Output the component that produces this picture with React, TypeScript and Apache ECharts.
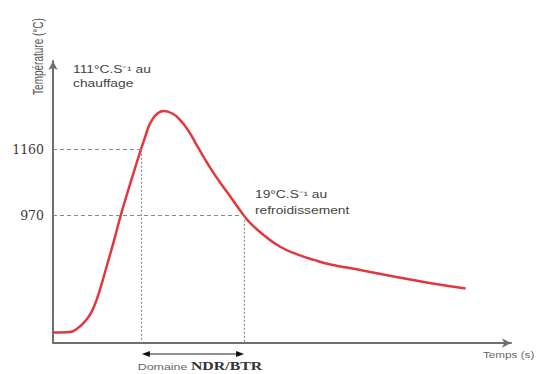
import React, { useEffect, useRef } from "react";
import * as echarts from "echarts";

// time (s, arbitrary units) and temperature (°C)
const timeS = [0, 3.0, 5.2, 7.4, 8.8, 10.2, 11.7, 13.2, 14.6, 16.0, 17.8, 19.0, 20.0, 20.6, 21.5, 22.6, 23.9, 25.8, 27.5, 29.4, 31.2, 34.8, 38.4, 41.3, 42.7, 45.6, 49.2, 52.8, 56.4, 60.0, 67.2, 74.5, 81.7, 89.2];
const tempC = [634, 635, 645, 674, 707, 760, 829, 899, 969, 1032, 1110, 1160, 1200, 1224, 1247, 1264, 1271, 1264, 1245, 1212, 1170, 1091, 1024, 970, 948, 914, 880, 859, 843, 830, 812, 793, 776, 761];

const yTickValues = [970, 1160];
const guideTemps = [1160, 970];
const guideTimes = [19.0, 41.3];
const yMin = 604;
const yMax = 1415;
const xMin = 0;
const xMax = 99;

export default function App() {
  const ref = useRef<HTMLDivElement>(null);
  useEffect(() => {
    if (!ref.current) return;
    const chart = echarts.init(ref.current, null, { renderer: "svg" });
    const data = timeS.map((t, i) => [t, tempC[i]]);
    const guideColor = "#8a8a8a";
    const markData: any[] = [];
    guideTemps.forEach((temp, i) => {
      const t = guideTimes[i];
      markData.push([
        { coord: [xMin, temp], lineStyle: { type: [4, 3], color: guideColor, width: 1.2 } },
        { coord: [t, temp] },
      ]);
      markData.push([
        { coord: [t, temp], lineStyle: { type: [2, 2], color: guideColor, width: 1.2 } },
        { coord: [t, yMin] },
      ]);
    });

    chart.setOption({
      animation: false,
      grid: { left: 53, right: 28, top: 61, bottom: 31, containLabel: false },
      xAxis: {
        type: "value",
        min: xMin,
        max: xMax,
        axisLine: {
          show: true,
          symbol: ["none", "arrow"],
          symbolSize: [7, 9],
          lineStyle: { color: "#6f6f6f", width: 2 },
        },
        axisTick: { show: false },
        axisLabel: { show: false },
        splitLine: { show: false },
      },
      yAxis: {
        type: "value",
        min: yMin,
        max: yMax,
        axisLine: {
          show: true,
          symbol: ["none", "arrow"],
          symbolSize: [7, 9],
          lineStyle: { color: "#6f6f6f", width: 2 },
        },
        axisTick: { show: false },
        axisLabel: {
          show: true,
          customValues: yTickValues,
          formatter: (v: number) => String(v),
          fontFamily: "DejaVu Serif",
          fontSize: 12.5,
          color: "#3a3a3a",
          margin: 9,
        },
        splitLine: { show: false },
      },
      series: [
        {
          type: "line",
          data,
          smooth: 0.5,
          showSymbol: false,
          lineStyle: { color: "#e3373e", width: 2.5 },
          markLine: {
            silent: true,
            symbol: ["none", "none"],
            label: { show: false },
            data: markData,
          },
        },
      ],
    });

    const p1 = chart.convertToPixel({ gridIndex: 0 }, [guideTimes[0], yMin]) as number[];
    const p2 = chart.convertToPixel({ gridIndex: 0 }, [guideTimes[1], yMin]) as number[];
    const xEnd = chart.convertToPixel({ gridIndex: 0 }, [xMax, yMin]) as number[];
    const ay = p1[1] + 11;
    const x1 = p1[0] + 1;
    const x2 = p2[0];
    const ah = 8;
    const aw = 3;
    const sx = 1.38;

    chart.setOption({
      graphic: [
        {
          type: "text",
          x: 38.5,
          y: 56.5,
          rotation: Math.PI / 2,
          scaleY: sx,
          style: {
            text: "Température (°C)",
            fontSize: 10,
            fontFamily: "Liberation Sans",
            fill: "#555",
            align: "center",
            verticalAlign: "middle",
          },
        },
        {
          type: "text",
          x: 73,
          y: 63,
          scaleX: sx,
          style: {
            text: "111°C.S⁻¹ au\nchauffage",
            fontSize: 10,
            lineHeight: 14,
            fontFamily: "Liberation Sans",
            fill: "#444",
          },
        },
        {
          type: "text",
          x: 255,
          y: 187,
          scaleX: sx,
          style: {
            text: "19°C.S⁻¹ au\nrefroidissement",
            fontSize: 10,
            lineHeight: 16,
            fontFamily: "Liberation Sans",
            fill: "#444",
          },
        },
        {
          type: "line",
          shape: { x1: x1 + 2, y1: ay, x2: x2 - 2, y2: ay },
          style: { stroke: "#222", lineWidth: 1.2 },
        },
        {
          type: "polygon",
          shape: { points: [[x1, ay], [x1 + ah, ay - aw], [x1 + ah, ay + aw]] },
          style: { fill: "#111" },
        },
        {
          type: "polygon",
          shape: { points: [[x2, ay], [x2 - ah, ay - aw], [x2 - ah, ay + aw]] },
          style: { fill: "#111" },
        },
        {
          type: "text",
          x: 200,
          y: ay + 12.5,
          scaleX: sx,
          style: {
            text: "{a|Domaine }{b|NDR/BTR}",
            align: "center",
            verticalAlign: "middle",
            rich: {
              a: { fontSize: 9, fontFamily: "Liberation Sans", fill: "#666" },
              b: { fontSize: 11.5, fontFamily: "Liberation Serif", fontWeight: "bold", fill: "#333" },
            },
          },
        },
        {
          type: "text",
          x: xEnd[0] - 28,
          y: xEnd[1] + 12,
          scaleX: 1.3,
          style: {
            text: "Temps (s)",
            fontSize: 9,
            fontFamily: "Liberation Sans",
            fill: "#666",
            verticalAlign: "middle",
          },
        },
      ],
    });

    return () => chart.dispose();
  }, []);

  return <div ref={ref} style={{ width: 539, height: 374, position: "absolute", left: 0, top: 0 }} />;
}
